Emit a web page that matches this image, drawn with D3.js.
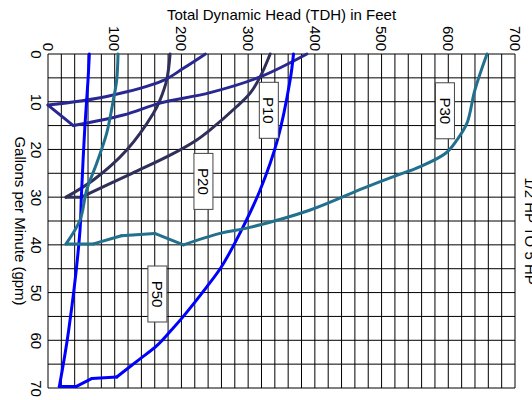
<!DOCTYPE html>
<html>
<head>
<meta charset="utf-8">
<script src="https://cdn.jsdelivr.net/npm/d3@7"></script>
<style>
  body { margin: 0; background: #fff; }
  text { font-family: "Liberation Sans", Arial, sans-serif; }
</style>
</head>
<body>
<div id="chart"></div>
<script>
// tick values
var gpmTicks = [0, 10, 20, 30, 40, 50, 60, 70]
var tdhTicks = [0, 100, 200, 300, 400, 500, 600, 700]

// pump curves, [gpm, tdh]
var p10 = [[0, 388], [4.8, 318], [8.1, 243], [10.3, 168], [12.8, 113], [15, 38],
  [10.7, 0], [8.9, 88], [5.6, 172], [3, 203], [0, 236]]
var p20 = [[0, 333], [4.8, 318], [8.2, 303], [11, 283], [15.9, 243], [18, 223],
  [21.2, 183], [25, 126], [30, 50], [30, 27], [26.4, 68], [20.1, 118],
  [12.4, 158], [9.6, 168], [5.4, 178], [0, 183]]
var p30 = [[0, 658], [7.5, 640], [14.5, 628], [18, 613], [20.8, 596], [23.6, 558],
  [25.7, 518], [28, 475], [32.7, 393], [36.5, 298], [37.6, 258], [40, 203],
  [37.6, 160], [38.1, 110], [39.8, 68], [39.8, 27], [34.8, 48], [28.5, 58],
  [22.9, 73], [16.6, 88], [9.6, 98], [5.4, 103], [0, 105]]
var p50 = [[0, 368], [5.4, 363], [18, 344], [28.5, 318], [36.9, 290], [44.6, 260],
  [48.8, 238], [55.3, 201], [58, 184], [61, 164], [64.1, 136], [67.7, 103],
  [68, 66], [69.7, 42], [69.7, 17], [57.9, 31], [36.9, 48], [29.9, 50],
  [15.9, 55], [5.4, 60], [0, 62]]

// points where a curve turns sharply (index into its list)
var p10Corners = [5, 6]
var p20Corners = [8, 9]
var p30Corners = [11, 12, 13, 14, 15]
var p50Corners = [11, 12, 13, 14]

var seriesNames = ['P20', 'P10', 'P50', 'P30']
var seriesData = [p20, p10, p50, p30]
var seriesCorners = [p20Corners, p10Corners, p50Corners, p30Corners]
var seriesColors = ['#2f2f5a', '#282890', '#0000ff', '#22708e']

// where the name boxes sit
var labelNames = ['P10', 'P20', 'P30', 'P50']
var labelGpm = [11.8, 26.7, 11.9, 50.3]
var labelTdh = [331, 233, 595, 164]

// the chart is built the normal way (gpm across, head up) and turned 90deg clockwise
var plotLeft = 48
var plotTop = 54
var width = 334
var height = 467

var svg = d3.select('#chart')
  .append('svg')
  .attr('width', 532)
  .attr('height', 400)

var g = svg.append('g')
  .attr('transform', 'translate(' + (plotLeft + height) + ',' + plotTop + ') rotate(90)')

var xPositionScale = d3.scaleLinear().domain([0, 70]).range([0, width])
var yPositionScale = d3.scaleLinear().domain([0, 700]).range([height, 0])

// grid
g.append('g')
  .selectAll('line')
  .data(d3.range(0, 71, 5))
  .enter()
  .append('line')
  .attr('x1', d => xPositionScale(d))
  .attr('x2', d => xPositionScale(d))
  .attr('y1', 0)
  .attr('y2', height)
  .attr('stroke', '#000')
  .attr('stroke-width', 1)

g.append('g')
  .selectAll('line')
  .data(d3.range(0, 701, 20))
  .enter()
  .append('line')
  .attr('x1', 0)
  .attr('x2', width)
  .attr('y1', d => yPositionScale(d))
  .attr('y2', d => yPositionScale(d))
  .attr('stroke', '#000')
  .attr('stroke-width', 1)

// axes, labels only
var xAxis = d3.axisBottom(xPositionScale).tickValues(gpmTicks).tickSize(0).tickPadding(6)
g.append('g')
  .attr('class', 'axis x-axis')
  .attr('transform', 'translate(0,' + height + ')')
  .call(xAxis)

var yAxis = d3.axisLeft(yPositionScale).tickValues(tdhTicks).tickSize(0).tickPadding(3)
g.append('g')
  .attr('class', 'axis y-axis')
  .call(yAxis)

g.selectAll('.axis .domain').remove()
g.selectAll('.axis text')
  .attr('font-size', 15)
  .attr('font-family', '"Liberation Sans", Arial, sans-serif')
  .attr('fill', '#000')

// curves: smooth between corners, sharp at the corners
var line = d3.line()
  .x(d => xPositionScale(d[0]))
  .y(d => yPositionScale(d[1]))
  .curve(d3.curveCatmullRom.alpha(0.5))

function splitAtCorners(data, corners) {
  var pieces = []
  var start = 0
  corners.concat([data.length - 1]).forEach(function(c) {
    if (c > start) pieces.push(data.slice(start, c + 1))
    start = c
  })
  return pieces
}

seriesData.forEach(function(data, i) {
  var group = g.append('g').attr('class', 'curve ' + seriesNames[i])
  splitAtCorners(data, seriesCorners[i]).forEach(function(piece) {
    group.append('path')
      .datum(piece)
      .attr('d', line)
      .attr('fill', 'none')
      .attr('stroke', seriesColors[i])
      .attr('stroke-width', 3)
      .attr('stroke-linecap', 'round')
      .attr('stroke-linejoin', 'round')
  })
})

// name boxes
labelNames.forEach(function(name, i) {
  var cx = xPositionScale(labelGpm[i])
  var cy = yPositionScale(labelTdh[i])
  g.append('rect')
    .attr('x', cx - 28)
    .attr('y', cy - 9.5)
    .attr('width', 56)
    .attr('height', 19)
    .attr('fill', '#fff')
    .attr('stroke', '#444')
    .attr('stroke-width', 1)
  g.append('text')
    .text(name)
    .attr('x', cx)
    .attr('y', cy)
    .attr('dy', '0.36em')
    .attr('text-anchor', 'middle')
    .attr('font-size', 15)
})

// titles
g.append('text')
  .text('Total Dynamic Head (TDH) in Feet')
  .attr('transform', 'translate(-34,' + (height / 2) + ') rotate(-90)')
  .attr('text-anchor', 'middle')
  .attr('font-size', 15)

g.append('text')
  .text('Gallons per Minute (gpm)')
  .attr('x', width / 2)
  .attr('y', height + 33)
  .attr('text-anchor', 'middle')
  .attr('font-size', 15)

g.append('text')
  .text('1/2 HP TO 5 HP')
  .attr('x', width / 2 + 10)
  .attr('y', -10)
  .attr('text-anchor', 'middle')
  .attr('font-size', 15)
</script>
</body>
</html>
